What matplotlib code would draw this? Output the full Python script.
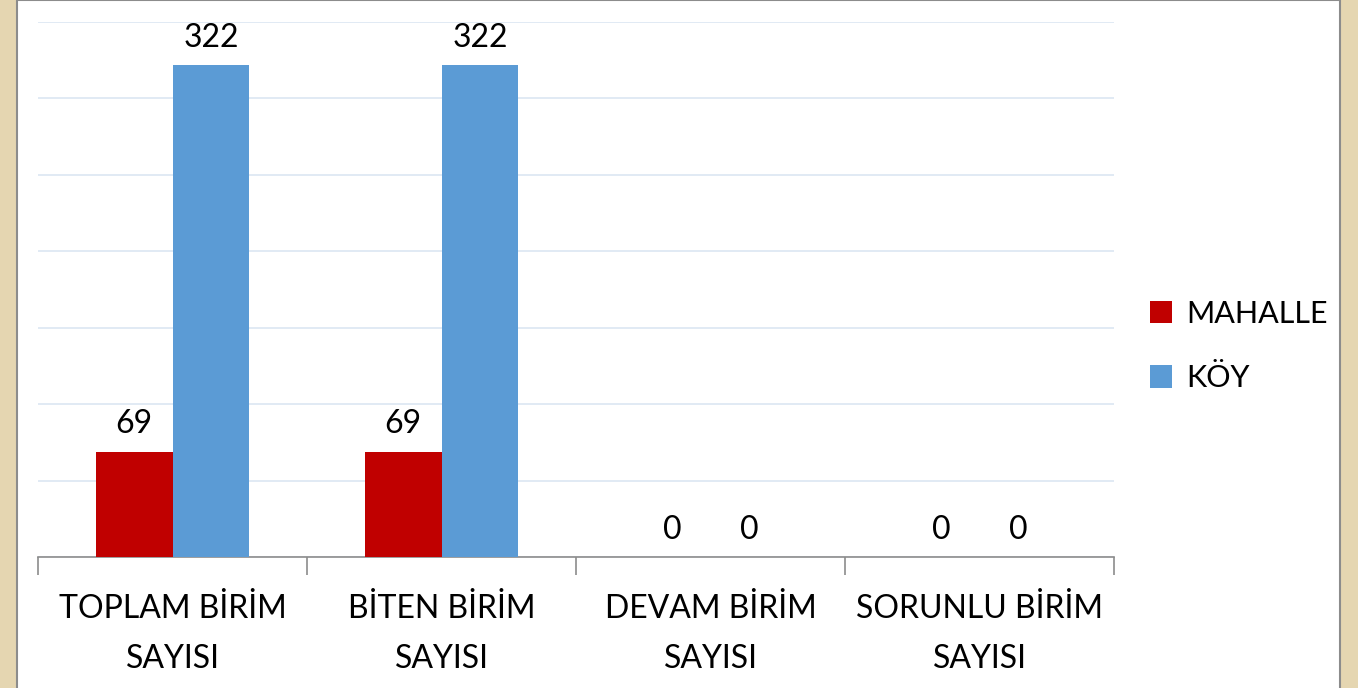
import numpy as np
import matplotlib.pyplot as plt
from matplotlib.patches import Rectangle

plt.rcParams['font.family'] = ['Lato', 'DejaVu Sans']

# chart data
categories = ["TOPLAM BİRİM\nSAYISI", "BİTEN BİRİM\nSAYISI", "DEVAM BİRİM\nSAYISI", "SORUNLU BİRİM\nSAYISI"]
mahalle = [69, 69, 0, 0]
koy = [322, 322, 0, 0]
series_names = ["MAHALLE", "KÖY"]

W, H = 1358, 688
fig = plt.figure(figsize=(W / 100, H / 100), dpi=100)
fig.patch.set_facecolor('#e5d6b1')

# white panel with grey frame
panel = Rectangle((17 / W, -0.01), (1340 - 17) / W, 1.01,
                  transform=fig.transFigure, facecolor='white',
                  edgecolor='#8c8c8c', linewidth=1.5, zorder=0)
fig.patches.append(panel)

ax = fig.add_axes([38 / W, (H - 557) / H, (1114 - 38) / W, (557 - 22) / H])
ax.set_facecolor('none')
ax.set_zorder(2)

x = np.arange(len(categories))
bw = 0.286
b1 = ax.bar(x - bw / 2, mahalle, bw, color='#c00000', label=series_names[0], zorder=3)
b2 = ax.bar(x + bw / 2, koy, bw, color='#5b9bd5', label=series_names[1], zorder=3)

for bars in (b1, b2):
    for b in bars:
        ax.text(b.get_x() + b.get_width() / 2, b.get_height() + 8, f"{int(b.get_height())}",
                ha='center', va='bottom', fontsize=23, color='black')

ax.set_xlim(-0.5, len(categories) - 0.5)
ax.set_ylim(0, 350)
ax.set_yticks(np.arange(0, 351, 50))
ax.yaxis.grid(True, color='#dce6f2', linewidth=1.2, zorder=0)
ax.tick_params(axis='y', left=False, labelleft=False)

for s in ('top', 'right', 'left'):
    ax.spines[s].set_visible(False)
ax.spines['bottom'].set_color('#8c8c8c')
ax.spines['bottom'].set_linewidth(1.2)

# category boundary ticks
ax.set_xticks(np.arange(-0.5, len(categories), 1.0))
ax.tick_params(axis='x', which='major', length=13, color='#8c8c8c', width=1.2, labelbottom=False)
ax.set_xticks(x, minor=True)
ax.set_xticklabels(categories, minor=True, fontsize=23, linespacing=1.8)
ax.tick_params(axis='x', which='minor', length=0, pad=27)

leg = fig.legend(handles=[b1, b2], labels=series_names, loc='center left',
                 bbox_to_anchor=(1122 / W, (H - 346) / H), frameon=False,
                 fontsize=22, handlelength=0.75, handleheight=0.75,
                 handletextpad=0.45, labelspacing=1.2)

fig.savefig('out.png', dpi=100, facecolor=fig.get_facecolor())
